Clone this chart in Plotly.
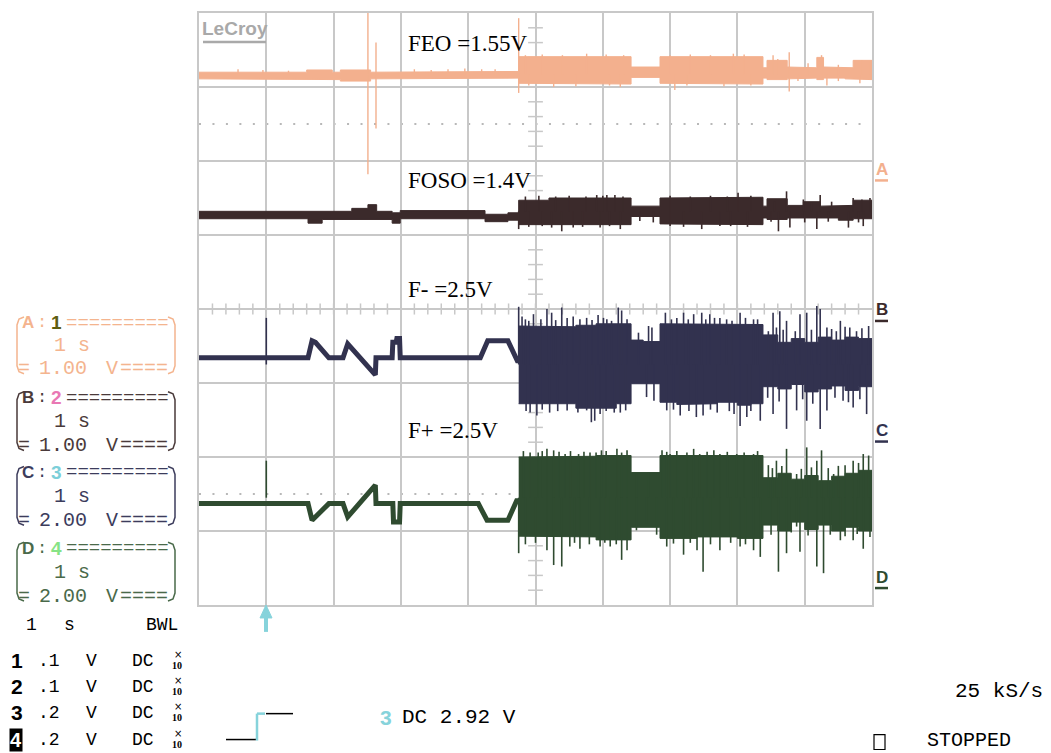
import plotly.graph_objects as go

# ---------------- data (time in s, level in screen divisions, 0 = bottom, 8 = top) -------------
# Channel A (FEO) envelope, step-wise
a_t  = [0, 1.0, 1.6, 1.98, 2.1, 2.55, 3.0, 3.9, 4.75, 5.5, 6.42, 6.85, 7.6, 8.38, 8.44, 8.74, 9.0, 9.18, 9.28, 9.6, 9.72, 10]
a_hi = [7.20, 7.20, 7.23, 7.20, 7.23, 7.20, 7.21, 7.21, 7.41, 7.41, 7.27, 7.41, 7.41, 7.26, 7.36, 7.27, 7.26, 7.40, 7.27, 7.26, 7.36, 7.36]
a_lo = [7.11, 7.11, 7.11, 7.10, 7.08, 7.11, 7.12, 7.12, 7.05, 7.04, 7.13, 7.05, 7.04, 7.12, 7.10, 7.11, 7.12, 7.10, 7.12, 7.11, 7.10, 7.10]
a_mid = 7.17
a_spk_t = [2.51, 2.51, 2.63, 2.63, 4.75, 4.75, 5.76, 6.31, 7.94, 8.53, 8.77, 9.25, 9.85, 9.97,
           5.27, 6.26, 7.07, 8.77, 9.33, 9.82,
           4.85, 5.10, 5.40, 6.05, 7.00, 7.30, 7.60, 8.10, 8.60, 9.05, 9.50,
           4.90, 5.60, 6.10, 7.25, 7.80, 8.20, 8.90, 9.50,
           0.58, 0.95, 1.33, 3.20, 3.45, 3.70, 3.95, 4.20, 4.40]
a_spk_y = [8.0, 5.82, 7.60, 6.44, 7.93, 6.92, 7.45, 7.43, 7.45, 7.43, 7.47, 7.43, 7.36, 7.35,
           7.00, 7.00, 6.96, 6.94, 7.02, 7.05,
           7.43, 7.44, 7.43, 7.44, 7.43, 7.44, 7.43, 7.44, 7.38, 7.32, 7.30,
           7.02, 7.01, 7.02, 7.02, 7.01, 7.02, 7.08, 7.08,
           7.24, 7.23, 7.22, 7.24, 7.23, 7.24, 7.25, 7.24, 7.24]

# Channel B (FOSO)
b_t  = [0, 1.62, 1.83, 2.27, 2.51, 2.64, 2.87, 2.99, 4.25, 4.59, 4.75, 5.2, 6.42, 6.85, 7.5, 8.38, 8.44, 8.74, 8.98, 9.23, 9.5, 9.72, 10]
b_hi = [5.32, 5.31, 5.32, 5.36, 5.41, 5.32, 5.30, 5.33, 5.28, 5.30, 5.47, 5.50, 5.39, 5.50, 5.51, 5.39, 5.49, 5.40, 5.45, 5.39, 5.40, 5.47, 5.47]
b_lo = [5.22, 5.16, 5.21, 5.22, 5.22, 5.21, 5.16, 5.22, 5.18, 5.20, 5.14, 5.14, 5.25, 5.15, 5.14, 5.23, 5.21, 5.23, 5.22, 5.23, 5.20, 5.22, 5.22]
b_mid = 5.32
b_spk_t = [5.91, 6.06, 6.18, 8.01, 8.73, 8.98, 9.23, 9.72, 9.97,
           4.75, 5.24, 5.39, 5.56, 5.96, 6.26, 6.55, 6.75, 7.47, 7.74, 8.61, 8.78, 9.18, 9.65, 9.87,
           4.85, 5.05, 5.30, 5.50, 5.75, 6.00, 6.30, 7.00, 7.30, 7.60, 7.85, 8.20, 8.55, 9.10, 9.40, 9.85,
           4.90, 5.10, 5.70, 6.10, 7.00, 7.20, 7.90, 8.15, 8.50, 9.00, 9.35, 9.80]
b_spk_y = [5.54, 5.54, 5.54, 5.57, 5.59, 5.48, 5.54, 5.50, 5.50,
           5.08, 5.10, 5.05, 5.10, 5.10, 5.08, 5.19, 5.17, 5.08, 5.12, 5.05, 5.10, 5.08, 5.10, 5.12,
           5.52, 5.53, 5.52, 5.53, 5.52, 5.53, 5.52, 5.53, 5.52, 5.53, 5.52, 5.53, 5.45, 5.44, 5.45, 5.48,
           5.11, 5.12, 5.11, 5.12, 5.12, 5.11, 5.12, 5.11, 5.18, 5.17, 5.18, 5.17]

# Channel C (F-) quiet part
c_line_t = [0, 1.62, 1.68, 1.73, 1.93, 2.14, 2.21, 2.62, 2.63, 2.87, 2.88, 2.93, 2.94, 2.98, 2.99, 4.18, 4.29, 4.59, 4.73, 4.75]
c_line_y = [3.34, 3.34, 3.57, 3.55, 3.34, 3.34, 3.53, 3.11, 3.34, 3.34, 3.55, 3.55, 3.60, 3.60, 3.34, 3.34, 3.57, 3.57, 3.30, 3.30]
# Channel C noisy part
c_t  = [4.75, 5.0, 5.3, 5.6, 5.9, 6.2, 6.42, 6.6, 6.85, 7.1, 7.4, 7.7, 8.0, 8.2, 8.38, 8.6, 8.8, 9.0, 9.2, 9.4, 9.6, 9.8, 10.0]
c_hi = [3.77, 3.77, 3.76, 3.78, 3.80, 3.80, 3.58, 3.56, 3.80, 3.79, 3.80, 3.79, 3.79, 3.79, 3.65, 3.55, 3.60, 3.55, 3.62, 3.58, 3.62, 3.60, 3.60]
c_lo = [2.72, 2.71, 2.72, 2.66, 2.66, 2.72, 2.99, 2.99, 2.74, 2.71, 2.72, 2.74, 2.70, 2.72, 2.95, 2.92, 2.98, 2.88, 2.92, 2.96, 2.90, 2.95, 2.95]
c_mid = 3.25
c_spk_t = [1.0, 4.75, 4.80, 4.97, 5.17, 5.24, 5.39, 5.56, 5.76, 5.93, 6.06, 6.23, 6.28, 6.53, 6.68, 6.73, 6.93, 7.20,
           7.35, 7.47, 7.59, 7.74, 8.04, 8.24, 8.46, 8.53, 8.63, 8.73, 8.86, 8.93, 9.03, 9.18, 9.23, 9.40, 9.53,
           9.67, 9.77, 9.95,
           5.02, 5.76, 5.83, 5.88, 5.96, 6.26, 6.65, 6.76, 6.95, 7.15, 7.39, 7.49, 8.04, 8.14, 8.34, 8.53, 8.73,
           8.88, 9.03, 9.23, 9.33, 9.57, 9.72, 9.92,
           4.85, 4.90, 5.08, 5.30, 5.47, 5.66, 5.84, 6.01, 6.13, 6.36, 7.02, 7.10, 7.27, 7.53, 7.66, 7.84, 7.92,
           8.12, 8.30, 8.58, 8.68, 9.10, 9.33, 9.47, 9.60, 9.85,
           4.86, 4.92, 5.10, 5.21, 5.33, 5.47, 5.63, 6.05, 6.17, 6.34, 7.05, 7.28, 7.60, 7.70, 7.88, 7.95, 8.20,
           8.45, 8.62, 8.97, 9.12, 9.45, 9.65, 9.82]
c_spk_y = [3.88, 4.03, 3.90, 3.93, 4.00, 3.95, 4.02, 3.90, 3.88, 3.92, 3.86, 4.02, 3.98, 3.68, 3.77, 3.75, 3.95, 3.95,
           3.93, 3.95, 3.93, 3.88, 3.95, 3.86, 3.70, 3.95, 3.97, 3.84, 3.70, 3.93, 3.95, 4.04, 4.00, 3.73, 3.84,
           3.75, 3.70, 3.77,
           2.56, 2.63, 2.47, 2.49, 2.58, 2.60, 2.81, 2.76, 2.63, 2.56, 2.54, 2.56, 2.42, 2.54, 2.49, 2.58, 2.38,
           2.63, 2.49, 2.38, 2.63, 2.76, 2.67, 2.58,
           3.86, 3.84, 3.86, 3.85, 3.88, 3.86, 3.85, 3.88, 3.84, 3.86, 3.86, 3.88, 3.86, 3.86, 3.88, 3.86, 3.84,
           3.88, 3.86, 3.75, 3.72, 3.72, 3.75, 3.70, 3.76, 3.74,
           2.62, 2.60, 2.64, 2.60, 2.62, 2.63, 2.60, 2.62, 2.60, 2.63, 2.64, 2.62, 2.64, 2.60, 2.62, 2.58, 2.62,
           2.80, 2.75, 2.78, 2.72, 2.80, 2.74, 2.78]

# Channel D (F+) quiet part
d_line_t = [0, 1.62, 1.68, 1.93, 2.14, 2.21, 2.62, 2.63, 2.88, 2.89, 2.98, 2.99, 4.15, 4.28, 4.59, 4.72, 4.75]
d_line_y = [1.37, 1.37, 1.145, 1.37, 1.37, 1.19, 1.62, 1.37, 1.37, 1.12, 1.12, 1.37, 1.37, 1.145, 1.145, 1.41, 1.41]
# Channel D noisy part
d_t  = [4.75, 5.3, 5.9, 6.42, 6.85, 7.4, 8.0, 8.38, 8.6, 8.8, 9.0, 9.2, 9.4, 9.6, 9.8, 10]
d_hi = [2.00, 2.01, 2.02, 1.79, 2.02, 2.02, 2.02, 1.72, 1.78, 1.70, 1.75, 1.68, 1.74, 1.78, 1.82, 1.82]
d_lo = [0.93, 0.92, 0.88, 1.05, 0.90, 0.92, 0.90, 1.08, 1.00, 1.12, 1.02, 1.08, 1.00, 1.05, 1.00, 1.00]
d_mid = 1.45
d_spk_t = [1.0, 5.04, 5.17, 5.27, 5.44, 5.64, 5.81, 5.98, 6.21, 6.36, 6.50, 6.68, 6.88, 7.00, 7.35, 7.44, 7.74, 7.99,
           8.24, 8.46, 8.58, 8.73, 8.88, 9.03, 9.18, 9.25, 9.43, 9.60, 9.72, 9.87, 9.95,
           4.75, 5.17, 5.27, 5.39, 5.51, 5.66, 5.96, 6.11, 6.28, 6.36, 6.50, 6.65, 6.80, 6.95, 7.20, 7.40, 7.49,
           7.74, 8.04, 8.24, 8.34, 8.61, 8.73, 8.88, 8.93, 9.18, 9.28, 9.53, 9.72, 9.87, 9.97,
           4.82, 4.92, 5.10, 5.35, 5.52, 5.72, 5.90, 6.05, 6.28, 6.95, 7.10, 7.25, 7.55, 7.65, 7.85, 8.10, 8.30,
           8.52, 8.66, 8.95, 9.10, 9.35, 9.50, 9.80,
           4.85, 5.00, 5.58, 5.80, 6.03, 6.20, 7.05, 7.30, 7.60, 7.90, 8.12, 8.50, 8.80, 9.05, 9.38, 9.60, 9.78]
d_spk_y = [1.95, 2.06, 2.11, 2.09, 2.04, 2.04, 2.06, 2.09, 2.11, 2.09, 1.77, 1.79, 2.09, 2.04, 2.11, 2.04, 2.04, 2.04,
           2.04, 1.89, 1.95, 2.11, 1.77, 2.13, 1.95, 2.09, 1.77, 1.89, 1.95, 2.04, 2.02,
           0.70, 0.74, 0.54, 0.52, 0.79, 0.76, 0.79, 0.79, 0.61, 0.74, 1.01, 1.10, 0.95, 0.79, 0.68, 0.74, 0.45,
           0.74, 0.79, 0.74, 0.65, 0.45, 0.70, 1.06, 0.72, 0.52, 0.43, 0.875, 0.875, 0.76, 0.92,
           2.08, 2.06, 2.08, 2.07, 2.08, 2.07, 2.06, 2.08, 2.06, 2.07, 2.08, 2.06, 2.07, 2.09, 2.07, 2.06, 2.08,
           1.85, 1.88, 1.84, 1.86, 1.85, 1.88, 1.92,
           0.82, 0.84, 0.84, 0.82, 0.84, 0.82, 0.83, 0.84, 0.82, 0.84, 0.82, 0.95, 0.98, 0.94, 0.95, 0.93, 0.96]

col_a, col_b, col_c, col_d = "#F3B08E", "#3B2A2B", "#32324F", "#2F4B30"

# ---------------- geometry helpers (screen pixels -> paper) ----------------
W, H = 1051, 753
PL, PR, PT, PB = 199, 872, 11, 605


def px(x):
    return (x - PL) / (PR - PL)


def py(y):
    return (PB - y) / (PB - PT)


def band(t, hi, lo):
    xs, ys = [], []
    n = len(t)
    for i in range(n):
        x1 = t[i + 1] if i + 1 < n else t[i]
        xs += [t[i], x1]
        ys += [hi[i], hi[i]]
    for i in reversed(range(n)):
        x1 = t[i + 1] if i + 1 < n else t[i]
        xs += [x1, t[i]]
        ys += [lo[i], lo[i]]
    return xs, ys


def spikes(t, y, mid):
    xs, ys = [], []
    for a, b in zip(t, y):
        xs += [a, a, None]
        ys += [mid, b, None]
    return xs, ys


fig = go.Figure()


def add_band(t, hi, lo, color):
    xs, ys = band(t, hi, lo)
    fig.add_trace(go.Scatter(x=xs, y=ys, mode="lines", fill="toself", fillcolor=color,
                             line=dict(color=color, width=1), hoverinfo="skip"))


def add_spikes(t, y, mid, color, w=1.6):
    xs, ys = spikes(t, y, mid)
    fig.add_trace(go.Scatter(x=xs, y=ys, mode="lines", line=dict(color=color, width=w), hoverinfo="skip"))


add_band(a_t, a_hi, a_lo, col_a)
add_spikes(a_spk_t, a_spk_y, a_mid, col_a, 1.4)
add_band(b_t, b_hi, b_lo, col_b)
add_spikes(b_spk_t, b_spk_y, b_mid, col_b)
fig.add_trace(go.Scatter(x=c_line_t, y=c_line_y, mode="lines", line=dict(color=col_c, width=5), hoverinfo="skip"))
add_band(c_t, c_hi, c_lo, col_c)
add_spikes(c_spk_t, c_spk_y, c_mid, col_c)
fig.add_trace(go.Scatter(x=d_line_t, y=d_line_y, mode="lines", line=dict(color=col_d, width=5), hoverinfo="skip"))
add_band(d_t, d_hi, d_lo, col_d)
add_spikes(d_spk_t, d_spk_y, d_mid, col_d)

# ---------------- decorations ----------------
shapes = []
GRID = "#c8c8c8"
for k in range(1, 50):
    shapes.append(dict(type="line", xref="x", yref="y", x0=k * 0.2, x1=k * 0.2, y0=4 - 0.075, y1=4 + 0.075,
                       line=dict(color=GRID, width=1.5), layer="below"))
for k in range(1, 40):
    shapes.append(dict(type="line", xref="x", yref="y", x0=5 - 0.11, x1=5 + 0.11, y0=k * 0.2, y1=k * 0.2,
                       line=dict(color=GRID, width=1.5), layer="below"))
for yy in (6.5, 1.5):
    shapes.append(dict(type="line", xref="x", yref="y", x0=0, x1=10, y0=yy, y1=yy,
                       line=dict(color="#b8b8b8", width=2, dash="2px,11.46px"), layer="below"))


def seg(x0, y0, x1, y1, color, width):
    shapes.append(dict(type="line", xref="paper", yref="paper", x0=px(x0), y0=py(y0), x1=px(x1), y1=py(y1),
                       line=dict(color=color, width=width)))


def path(d_pts, color, width, fill=None, close=False):
    s = "M " + " L ".join(f"{px(x):.5f},{py(y):.5f}" for x, y in d_pts)
    if close:
        s += " Z"
    shapes.append(dict(type="path", xref="paper", yref="paper", path=s,
                       line=dict(color=color, width=width), fillcolor=fill if fill else "rgba(0,0,0,0)"))


ann = []


def text(x, y, s, size=18, color="#000", family="Liberation Mono", xanchor="left", bold=False, **kw):
    if bold:
        s = f"<b>{s}</b>"
    ann.append(dict(x=px(x), y=py(y), xref="paper", yref="paper", text=s, showarrow=False,
                    xanchor=xanchor, yanchor="middle",
                    font=dict(size=size, color=color, family=family), **kw))


# LeCroy logo
text(200, 27, "LeCroy", 19, "#a9a9a9", "Liberation Sans", bold=True)
seg(203, 40, 266, 40, "#a9a9a9", 2.5)

# channel captions
SERIF = "Liberation Serif"
text(406, 42, "FEO =1.55V", 23, "#000", SERIF)
text(406, 179, "FOSO =1.4V", 23, "#000", SERIF)
text(406, 288, "F- =2.5V", 23, "#000", SERIF)
text(406, 430, "F+ =2.5V", 23, "#000", SERIF)

# right-hand trace markers
for lab, yy, col in (("A", 168, col_a), ("B", 309, col_b), ("C", 430, col_c), ("D", 577, col_d)):
    text(874, yy, lab, 17, col, "Liberation Sans", bold=True)
    seg(875, yy + 11, 888, yy + 11, col, 2.5)

# left setup boxes
boxes = [
    ("A", "1", "#F4B48E", "#5E5E10", "1.00", 322, 345, 368),
    ("B", "2", "#4A3A3A", "#E978B4", "1.00", 397, 421, 445),
    ("C", "3", "#3C3C5C", "#7CCFD9", "2.00", 472, 496, 520),
    ("D", "4", "#4A6A4A", "#86E386", "2.00", 548, 572, 596),
]
for lab, num, col, ncol, volts, y1, y2, y3 in boxes:
    text(20, y1, lab, 17, col, "Liberation Sans", bold=True)
    text(35, y1, ":", 17, col)
    text(49, y1, num, 19, ncol, "Liberation Sans", bold=True)
    text(64, y1, "=========", 19, col)
    text(52, y2, "1 s", 20, col)
    text(16, y3, "=", 20, col)
    text(37, y3, volts, 20, col)
    text(104, y3, "V", 20, col)
    text(118, y3, "====", 20, col)
    path([(24, y1 - 6), (19, y1 - 4), (17, y1 + 2), (17, y3 - 3), (19, y3 + 3), (24, y3 + 5)], col, 1.5)
    path([(168, y1 - 6), (173, y1 - 4), (175, y1 + 2), (175, y3 - 3), (173, y3 + 3), (168, y3 + 5)], col, 1.5)

# bottom status text
text(24, 625, "1", 18)
text(62, 625, "s", 18)
text(144, 625, "BWL", 18)
rows = [("1", ".1", 661), ("2", ".1", 687), ("3", ".2", 713), ("4", ".2", 740)]
for n, v, yy in rows:
    if n == "4":
        text(9, yy, n, 20, "#ffffff", "Liberation Sans", bold=True, bgcolor="#000000", borderpad=0)
    else:
        text(9, yy, n, 21, "#000", "Liberation Sans", bold=True)
    text(36, yy, v, 18)
    text(84, yy, "V", 18)
    text(130, yy, "DC", 18)
    text(172, yy - 6, "×", 10, "#000", "DejaVu Sans")
    text(170, yy + 5, "10", 10, "#000", SERIF, bold=True)

# trigger arrow
path([(260, 618), (266, 605), (272, 618)], "#86D3DB", 1, fill="#86D3DB", close=True)
seg(266, 616, 266, 632, "#86D3DB", 4)

# trigger step symbol
seg(226, 740, 256, 740, "#000", 1.5)
seg(257, 741, 257, 714, "#86D3DB", 2.5)
seg(257, 714, 265, 714, "#86D3DB", 2.5)
seg(266, 714, 293, 714, "#000", 1.5)
text(378, 718, "3", 21, "#86D3DB", "Liberation Sans", bold=True)
text(400, 718, "DC 2.92 V", 21)

text(953, 692, "25 kS/s", 21)
path([(874, 735), (885, 735), (885, 750), (874, 750)], "#000", 1.2, close=True)
text(925, 741, "STOPPED", 20)

fig.update_layout(
    width=W, height=H,
    margin=dict(l=PL, r=W - PR, t=PT, b=H - PB, pad=0),
    paper_bgcolor="white", plot_bgcolor="white",
    showlegend=False, hovermode=False,
    shapes=shapes, annotations=ann,
    xaxis=dict(range=[0, 10], dtick=1, tick0=0, showticklabels=False, ticks="",
               showgrid=True, gridcolor=GRID, gridwidth=2, zeroline=False,
               showline=True, mirror=True, linecolor=GRID, linewidth=2, fixedrange=True),
    yaxis=dict(range=[0, 8], dtick=1, tick0=0, showticklabels=False, ticks="",
               showgrid=True, gridcolor=GRID, gridwidth=2, zeroline=False,
               showline=True, mirror=True, linecolor=GRID, linewidth=2, fixedrange=True),
)

fig.write_html("out.html", config={"displayModeBar": False},
               post_script="document.body.style.margin='0';document.body.style.overflow='hidden';")
